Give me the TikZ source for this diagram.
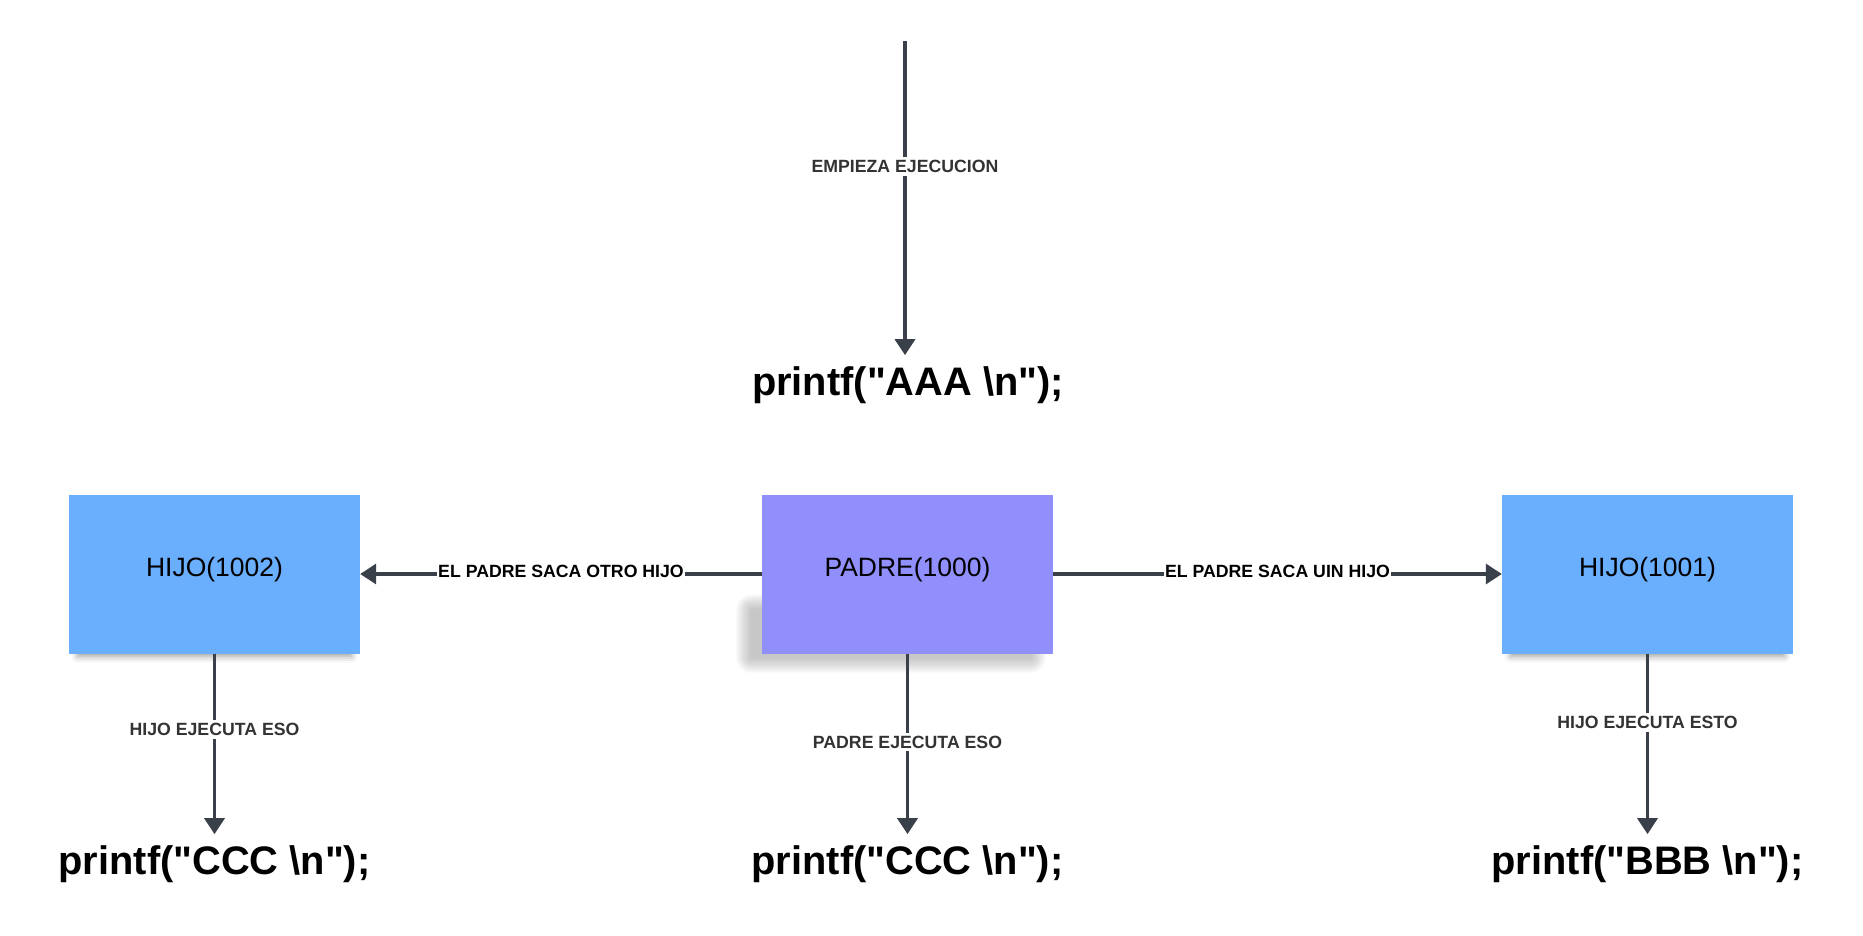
\documentclass[tikz,border=0pt]{standalone}
\usepackage{fontspec}
\setmainfont{Liberation Sans}
\usetikzlibrary{arrows.meta,shadows.blur,backgrounds}
\definecolor{hijoblue}{HTML}{6AAEFE}
\definecolor{padrepurple}{HTML}{918FFB}
\definecolor{linegray}{HTML}{3A4049}
\definecolor{labelgray}{HTML}{333333}
\newcommand{\qq}{\textquotedbl}
\begin{document}
\begin{tikzpicture}[x=1pt,y=-1pt,
  proc/.style={rectangle, minimum width=291pt, minimum height=159pt, inner sep=0pt,
    font=\fontsize{26.5pt}{32pt}\selectfont, text=black, text height=0.64em, text depth=0.21em},
  hijobox/.style={proc, fill=hijoblue, blur shadow={shadow xshift=0pt, shadow yshift=-8pt,
    shadow blur radius=7pt, shadow opacity=40, shadow scale=0.94}},
  padrebox/.style={proc, fill=padrepurple},
  code/.style={font=\fontsize{39.8pt}{48pt}\selectfont\bfseries, text=black, inner sep=0pt,
    outer sep=11pt, anchor=base},
  flow/.style={line width=3.5pt, draw=linegray, -{Triangle[width=20pt,length=16pt]}},
  lab/.style={fill=white, font=\fontsize{17.7pt}{21pt}\selectfont\bfseries,
    inner xsep=1pt, inner ysep=3pt},
  vlab/.style={lab, text=labelgray},
  hlab/.style={lab, text=black, yshift=3pt},
]
\path[use as bounding box] (0,0) rectangle (1863,935);

\node[hijobox] (h2) at (214.5,574) {HIJO(1002)};
\node[padrebox] (p) at (907.5,574) {PADRE(1000)};
\node[hijobox] (h1) at (1647.5,574) {HIJO(1001)};

\begin{scope}[on background layer]
  \foreach \r in {1,...,16} {
    \fill[black, opacity=0.016, rounded corners=\r pt]
      ([xshift={-(10+\r)*1pt}, yshift={-(3.5+\r)*1pt}]p.south west) rectangle
      ([xshift={(\r-23)*1pt}, yshift={(43.5+\r)*1pt}]p.south east);
  }
\end{scope}

\node[code] (aaa) at (908,395) {printf(\qq AAA \textbackslash n\qq);};
\node[code] (ccc1) at (214.5,874) {printf(\qq CCC \textbackslash n\qq);};
\node[code] (ccc2) at (907.5,874) {printf(\qq CCC \textbackslash n\qq);};
\node[code] (bbb) at (1647.5,874) {printf(\qq BBB \textbackslash n\qq);};

\coordinate (start) at (905,41);

\draw[flow] (start) -- (start |- aaa.north)
  node[vlab, pos=0.4] {EMPIEZA EJECUCION};
\draw[flow] (p.west) -- (h2.east)
  node[hlab, midway] {EL PADRE SACA OTRO HIJO};
\draw[flow] (p.east) -- (h1.west)
  node[hlab, midway] {EL PADRE SACA UIN HIJO};
\draw[flow] (h2.south) -- (ccc1.north)
  node[vlab, pos=0.42] {HIJO EJECUTA ESO};
\draw[flow] (p.south) -- (ccc2.north)
  node[vlab, pos=0.49] {PADRE EJECUTA ESO};
\draw[flow] (h1.south) -- (bbb.north)
  node[vlab, pos=0.38] {HIJO EJECUTA ESTO};
\end{tikzpicture}
\end{document}
